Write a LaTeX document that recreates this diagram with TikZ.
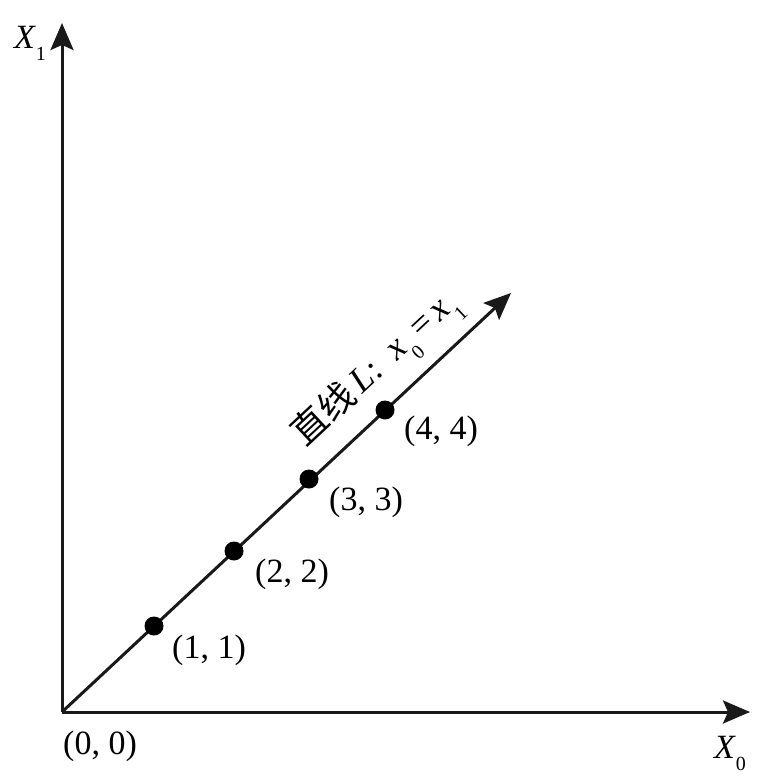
\documentclass[tikz,border=0pt]{standalone}
\usepackage{fontspec}
\setmainfont{Liberation Serif}
\newfontfamily\cjk{Noto Sans CJK SC}
\usetikzlibrary{arrows.meta}
\newcommand{\mysub}[1]{\raisebox{-0.38em}{\fontsize{20}{20}\selectfont #1}}
\begin{document}
\begin{tikzpicture}[x=1pt,y=-1pt,
  axis/.style={line width=3pt,draw=black!90,-{Stealth[length=27pt,width=23pt,inset=5pt]}},
  dot/.style={circle,fill=black,inner sep=0pt,minimum size=19pt},
  lbl/.style={inner sep=0pt,font=\fontsize{34}{36}\selectfont}]
\useasboundingbox (0,0) rectangle (784,779);
\coordinate (O) at (62,712);
\coordinate (xend) at (750,712);
\coordinate (yend) at (62,23);
\coordinate (lend) at (511,293);
\draw[axis] (O) -- (xend);
\draw[axis] (O) -- (yend);
\draw[axis] (O) -- (lend);
\node[dot] (p1) at (154,626) {};
\node[dot] (p2) at (234,551) {};
\node[dot] (p3) at (309,479) {};
\node[dot] (p4) at (385,410) {};
\node[lbl] (l0) at (100,746) {(0,\ 0)};
\node[lbl] (l1) at (209,650) {(1,\ 1)};
\node[lbl] (l2) at (292,574) {(2,\ 2)};
\node[lbl] (l3) at (366,502) {(3,\ 3)};
\node[lbl] (l4) at (441,431) {(4,\ 4)};
\node[lbl,anchor=base] (x0) at (730,758) {\textit{X}\mysub{0}};
\node[lbl,anchor=base] (x1) at (30,48) {\textit{X}\mysub{1}};
\node[lbl,rotate=43,font=\fontsize{36}{38}\selectfont] (ll) at (377,370) {{\cjk 直线}\,\textit{L}:\ \ \textit{x}\mysub{0}\,=\,\textit{x}\mysub{1}};
\end{tikzpicture}
\end{document}
